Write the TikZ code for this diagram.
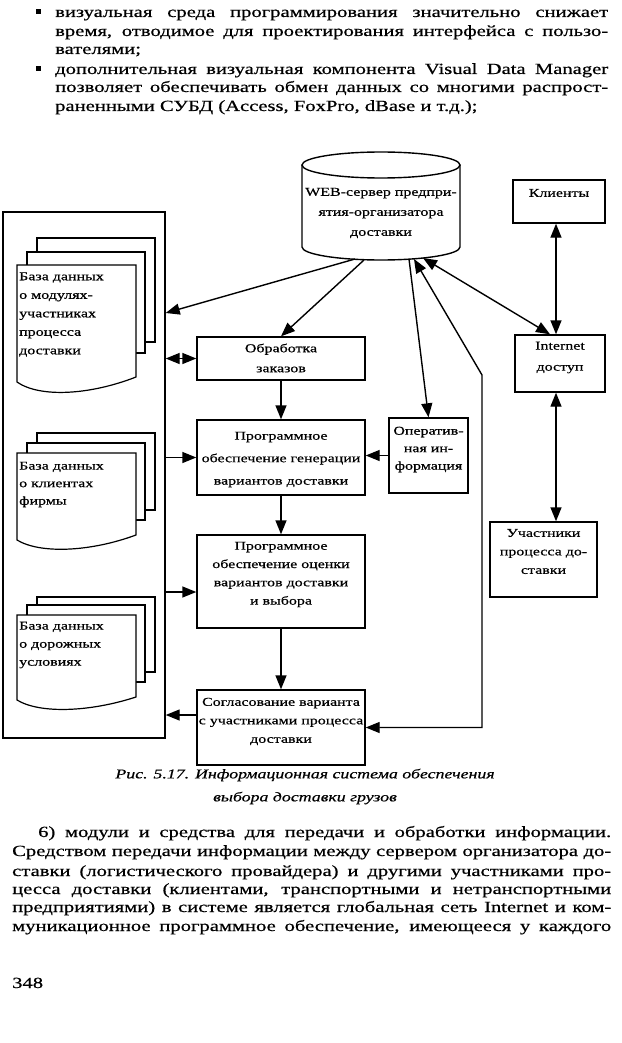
\documentclass[tikz,border=0pt]{standalone}
\usepackage{fontspec}
\setmainfont{Liberation Serif}[FakeStretch=1.33, FakeBold=0.6]
\usetikzlibrary{arrows.meta}
\newcommand{\bodyfont}{\fontsize{15.5}{18.8}\selectfont}
\newcommand{\dfont}{\fontsize{12}{18.5}\selectfont}
\newcommand{\capfont}{\fontsize{13.4}{23}\selectfont\itshape}
\begin{document}
\begin{tikzpicture}[x=1pt,y=-1pt,
  lw/.style={line width=1.4pt},
  box/.style={draw, line width=1.4pt, inner sep=0pt, fill=white},
  dtxt/.style={font=\dfont, align=center, inner sep=0pt},
  ltxt/.style={font=\dfont, align=left, inner sep=0pt, anchor=west},
  sheet/.style={draw, line width=1.2pt, fill=white},
  arr/.style={line width=1.4pt, -{Triangle[length=14pt,width=11pt]}},
  darr/.style={line width=1.4pt, {Triangle[length=14pt,width=11pt]}-{Triangle[length=14pt,width=11pt]}},
  tline/.style={font=\bodyfont, inner sep=0pt, anchor=base west},
  bullet/.style={fill, rectangle, minimum size=5pt, inner sep=0pt},
]
\useasboundingbox (0,0) rectangle (621,1043);

% ---------- top text ----------
\node[bullet] (b1) at (38.5,12) {};
\node[tline] (t1) at (55,17) {\makebox[553pt][s]{визуальная среда программирования значительно снижает}};
\node[tline] (t2) at (55,36) {\makebox[553pt][s]{время, отводимое для проектирования интерфейса с пользо-}};
\node[tline] (t3) at (55,54) {вателями;};
\node[bullet] (b2) at (38.5,69) {};
\node[tline] (t4) at (55,74) {\makebox[553pt][s]{дополнительная визуальная компонента Visual Data Manager}};
\node[tline] (t5) at (55,92) {\makebox[553pt][s]{позволяет обеспечивать обмен данных со многими распрост-}};
\node[tline] (t6) at (55,111) {раненными СУБД (Access, FoxPro, dBase и т.д.);};

% ---------- left container and document stacks ----------
\node[box, minimum width=162pt, minimum height=526pt] (left) at (84,475) {};

\draw[sheet] (37,238) rectangle (155,342);
\draw[sheet] (27,252) rectangle (145,353);
\draw[sheet] (17,382) -- (17,265) -- (136,265) -- (136,377) .. controls (90,395) and (40,398) .. (17,382) -- cycle;
\node[ltxt] (s1) at (19,314.5) {База данных\\о модулях-\\участниках\\процесса\\доставки};

\draw[sheet] (37,433) rectangle (155,510);
\draw[sheet] (27,443) rectangle (145,520);
\draw[sheet] (17,540) -- (17,453) -- (136,453) -- (136,535) .. controls (90,552) and (40,554) .. (17,540) -- cycle;
\node[ltxt, font={\fontsize{12}{17.5}\selectfont}] (s2) at (19,484.5) {База данных\\о клиентах\\фирмы};

\draw[sheet] (37,597) rectangle (155,672);
\draw[sheet] (27,605) rectangle (145,682);
\draw[sheet] (17,700) -- (17,615) -- (136,615) -- (136,697) .. controls (90,712) and (40,714) .. (17,700) -- cycle;
\node[ltxt, font={\fontsize{12}{18}\selectfont}] (s3) at (19,645) {База данных\\о дорожных\\условиях};

% ---------- server cylinder ----------
\draw[lw, fill=white] (302,165) -- (302,247) arc[start angle=180, end angle=0, x radius=79, y radius=13] -- (460,165);
\draw[lw, fill=white] (381,165) ellipse [x radius=79, y radius=13];
\node[dtxt, font={\fontsize{12}{20}\selectfont}] (srv) at (381,213) {WEB-сервер предпри-\\ятия-организатора\\доставки};
\coordinate (srvA) at (355,259);
\coordinate (srvB) at (364,260);
\coordinate (srvC) at (409,259);
\coordinate (srvD) at (414,259);
\coordinate (srvE) at (423,258);

% ---------- boxes ----------
\node[box, minimum width=92pt, minimum height=43pt] (kl) at (559,201.5) {};
\node[dtxt] (klt) at (559,193) {Клиенты};
\node[box, minimum width=90pt, minimum height=57pt] (inet) at (560,363.5) {};
\node[dtxt, font={\fontsize{12}{21}\selectfont}] (inett) at (560,357.5) {Internet\\доступ};
\node[box, minimum width=107pt, minimum height=75pt] (uch) at (543.5,559.5) {};
\node[dtxt] (ucht) at (543.5,551.5) {Участники\\процесса до-\\ставки};
\node[box, minimum width=79pt, minimum height=75pt] (oper) at (428.5,455.5) {};
\node[dtxt, font={\fontsize{12}{17.5}\selectfont}] (opert) at (428.5,449.5) {Оператив-\\ная ин-\\формация};
\node[box, minimum width=168pt, minimum height=43pt] (obr) at (281,358.5) {};
\node[dtxt, font={\fontsize{12}{20}\selectfont}] (obrt) at (281,358) {Обработка\\заказов};
\node[box, minimum width=168pt, minimum height=75pt] (gen) at (281,457.5) {};
\node[dtxt, font={\fontsize{12}{22.5}\selectfont}] (gent) at (281,459.5) {Программное\\обеспечение генерации\\вариантов доставки};
\node[box, minimum width=168pt, minimum height=93pt] (ocen) at (281,581.5) {};
\node[dtxt, font={\fontsize{12}{18.3}\selectfont}] (ocent) at (281,574.5) {Программное\\обеспечение оценки\\вариантов доставки\\и выбора};
\node[box, minimum width=168pt, minimum height=75pt] (sogl) at (281,727.5) {};
\node[dtxt] (soglt) at (281,721.5) {Согласование варианта\\с участниками процесса\\доставки};

% ---------- helper levels ----------
\coordinate (y313) at (0,313);
\coordinate (y592) at (0,592);
\coordinate (y715) at (0,715);
\coordinate (x556) at (556,0);
\coordinate (x550) at (550,0);
\coordinate (bend) at (482,375);

% ---------- connectors ----------
\draw[arr] (srvA) -- (left.east |- y313);
\draw[arr] (srvB) -- (obr.north);
\draw[darr] (left.east |- obr.west) -- (obr.west);
\draw[arr] (obr.south) -- (gen.north);
\draw[arr] (left.east |- gen.west) -- (gen.west);
\draw[arr] (oper.west) -- (gen.east |- oper.west);
\draw[arr] (srvC) -- (oper.north);
\draw[arr] (gen.south) -- (ocen.north);
\draw[arr] (left.east |- y592) -- (ocen.west |- y592);
\draw[arr] (ocen.south) -- (sogl.north);
\draw[arr] (sogl.west |- y715) -- (left.east |- y715);
\draw[darr] (srvD) -- (bend) |- (sogl.east);
\draw[darr] (srvE) -- (inet.north -| x550);
\draw[darr] (kl.south -| x556) -- (inet.north -| x556);
\draw[darr] (inet.south -| x556) -- (uch.north -| x556);

% ---------- caption ----------
\node[font=\capfont, align=center, inner sep=0pt] (cap) at (305,786.5) {Рис. 5.17. Информационная система обеспечения\\выбора доставки грузов};

% ---------- bottom text ----------
\node[tline] (p1) at (38,837) {\makebox[573pt][s]{6) модули и средства для передачи и обработки информации.}};
\node[tline] (p2) at (12,856) {\makebox[599pt][s]{Средством передачи информации между сервером организатора до-}};
\node[tline] (p3) at (12,876) {\makebox[599pt][s]{ставки (логистического провайдера) и другими участниками про-}};
\node[tline] (p4) at (12,894) {\makebox[599pt][s]{цесса доставки (клиентами, транспортными и нетранспортными}};
\node[tline] (p5) at (12,912) {\makebox[599pt][s]{предприятиями) в системе является глобальная сеть Internet и ком-}};
\node[tline] (p6) at (12,931) {\makebox[599pt][s]{муникационное программное обеспечение, имеющееся у каждого}};
\node[tline] (pn) at (12,988) {348};
\end{tikzpicture}
\end{document}
